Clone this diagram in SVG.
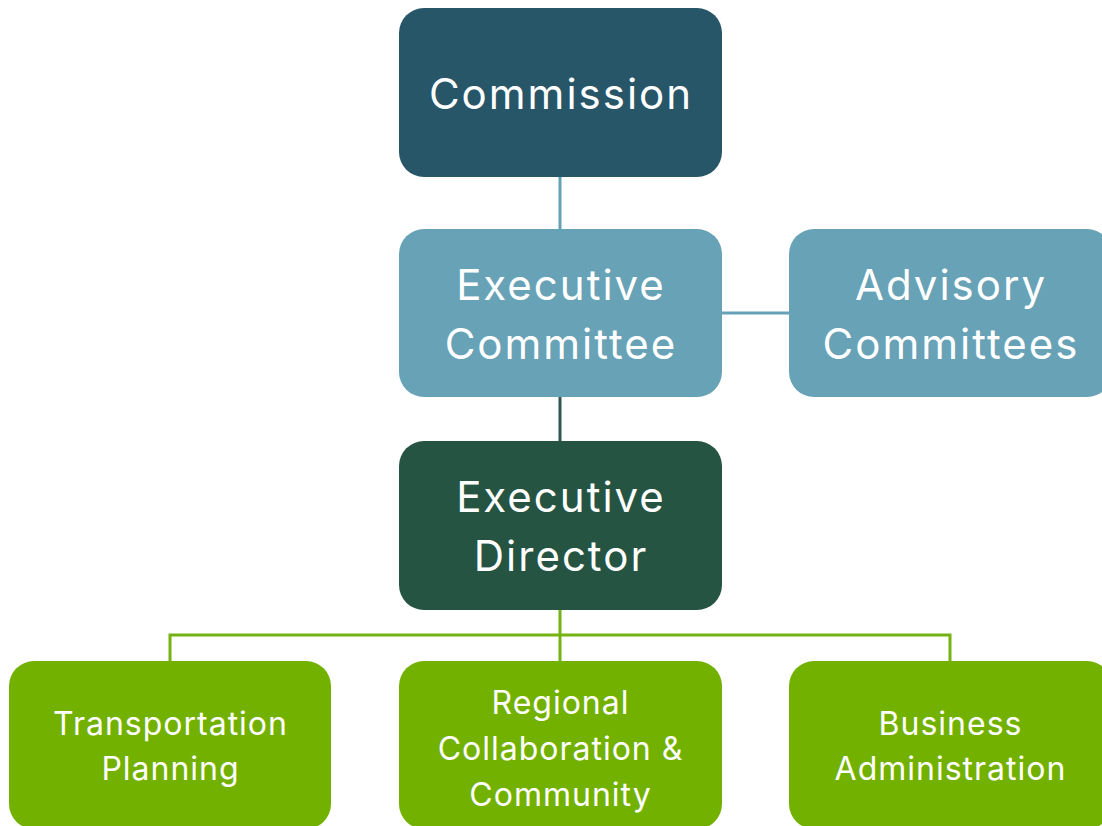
<svg xmlns="http://www.w3.org/2000/svg" width="1102" height="826" viewBox="0 0 1102 826">
<style>
.lbl{font-family:Inter,"Open Sans","Liberation Sans",sans-serif;fill:#ffffff;text-anchor:middle}
.big{font-size:42px;letter-spacing:2px}
.sm{font-size:32px;letter-spacing:1px}
.c{fill:none;stroke-width:3}
</style>
<rect width="1102" height="826" fill="#ffffff"/>
<g id="connectors">
<line class="c" x1="560" y1="177" x2="560" y2="230" stroke="#66a2b7"/>
<line class="c" x1="721" y1="313" x2="790" y2="313" stroke="#66a2b7"/>
<line class="c" x1="560" y1="396" x2="560" y2="442" stroke="#2f5752"/>
<path class="c" d="M560 609 V662 M170 662 V635 H950 V662" stroke="#75b213"/>
</g>
<g id="commission">
<rect x="399" y="8" width="323" height="169" rx="25" fill="#265668"/>
<text class="lbl big" x="561" y="109">Commission</text>
</g>
<g id="executive-committee">
<rect x="399" y="229" width="323" height="168" rx="25" fill="#67a2b7"/>
<text class="lbl big" x="561" y="300">Executive</text>
<text class="lbl big" x="561" y="359">Committee</text>
</g>
<g id="advisory-committees">
<rect x="789" y="229" width="323" height="168" rx="25" fill="#67a2b7"/>
<text class="lbl big" x="951" y="300">Advisory</text>
<text class="lbl big" x="951" y="359">Committees</text>
</g>
<g id="executive-director">
<rect x="399" y="441" width="323" height="169" rx="25" fill="#255443"/>
<text class="lbl big" x="561" y="512">Executive</text>
<text class="lbl big" x="561" y="571">Director</text>
</g>
<g id="transportation-planning">
<rect x="9" y="661" width="322" height="168" rx="25" fill="#73b100"/>
<text class="lbl sm" x="170.5" y="735">Transportation</text>
<text class="lbl sm" x="170.5" y="780">Planning</text>
</g>
<g id="regional-collaboration">
<rect x="399" y="661" width="323" height="168" rx="25" fill="#73b100"/>
<text class="lbl sm" x="560.5" y="714">Regional</text>
<text class="lbl sm" x="560.5" y="760">Collaboration &amp;</text>
<text class="lbl sm" x="560.5" y="806">Community</text>
</g>
<g id="business-administration">
<rect x="789" y="661" width="323" height="168" rx="25" fill="#73b100"/>
<text class="lbl sm" x="950.5" y="735">Business</text>
<text class="lbl sm" x="950.5" y="780">Administration</text>
</g>
</svg>
